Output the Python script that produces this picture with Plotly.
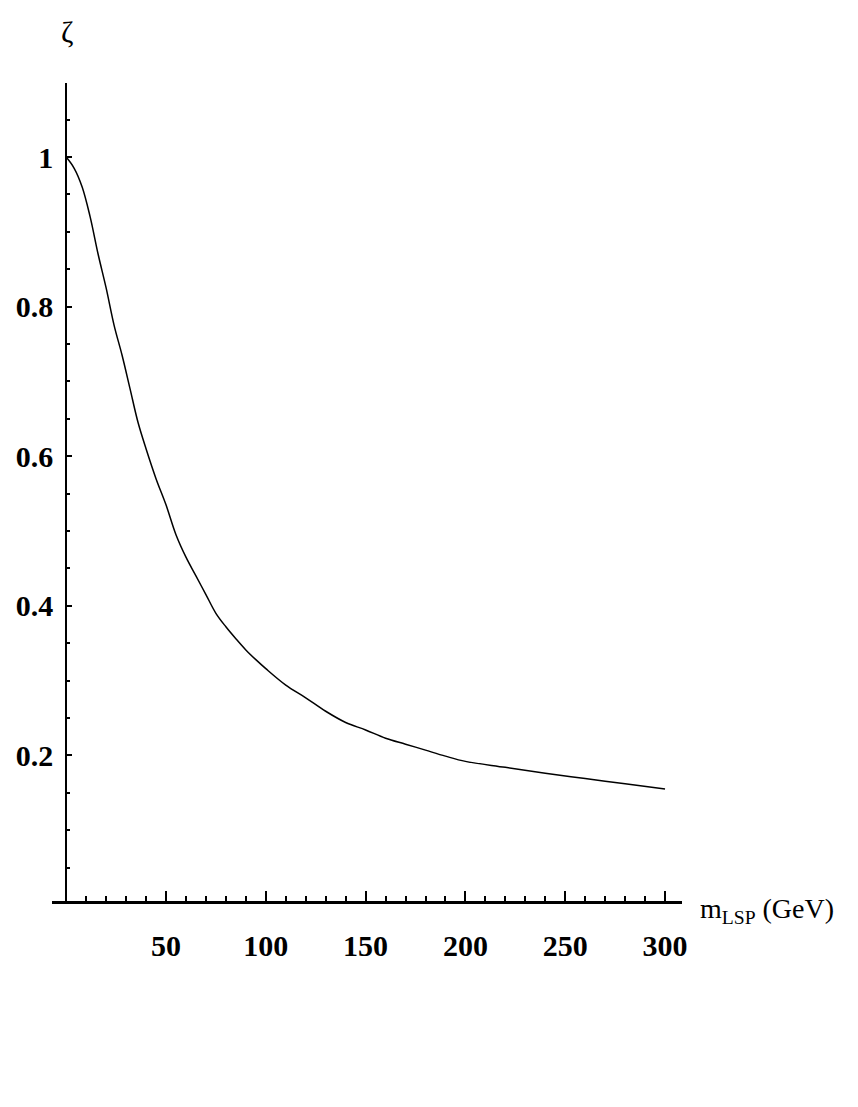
import plotly.graph_objects as go

# curve: m_LSP (GeV) vs zeta
m_lsp = [0, 4, 8, 12, 16, 20, 24, 28, 32, 36, 40, 45, 50, 55, 60, 65, 70, 75, 80, 85,
         90, 95, 100, 110, 120, 130, 140, 150, 160, 170, 180, 190, 200, 220, 240,
         260, 280, 300]
zeta = [1.0, 0.985, 0.96, 0.92, 0.87, 0.825, 0.775, 0.735, 0.69, 0.645, 0.61, 0.57,
        0.535, 0.495, 0.465, 0.44, 0.415, 0.39, 0.372, 0.356, 0.341, 0.328, 0.316,
        0.294, 0.277, 0.259, 0.244, 0.234, 0.223, 0.215, 0.207, 0.199, 0.192, 0.184,
        0.176, 0.169, 0.162, 0.155]

x_ticks = [50, 100, 150, 200, 250, 300]
x_labels = ["50", "100", "150", "200", "250", "300"]
y_ticks = [0.2, 0.4, 0.6, 0.8, 1.0]
y_labels = ["0.2", "0.4", "0.6", "0.8", "1"]

# page body has an 8px margin, so work in page pixels minus 8
off = 8
W, H = 858 - 2 * off, 1107 - 2 * off
left, right, top, bottom = 52 - off, 682 - off, 83 - off, 901 - off
xr = [-7.11, 308.5]
yr = [0.0053, 1.099]

tick_font = dict(family="Liberation Serif", size=30, color="black", weight="bold")

fig = go.Figure()
fig.add_trace(go.Scatter(x=m_lsp, y=zeta, mode="lines",
                         line=dict(color="black", width=1.5, shape="spline"),
                         showlegend=False, hoverinfo="skip"))

fig.update_layout(
    width=W, height=H,
    margin=dict(l=left, r=W - right, t=top, b=H - bottom, autoexpand=False),
    plot_bgcolor="white", paper_bgcolor="white",
)

fig.update_xaxes(
    range=xr, showgrid=False, zeroline=False, automargin=False,
    showline=True, linecolor="black", linewidth=3,
    tickmode="array", tickvals=x_ticks, ticktext=x_labels,
    ticks="inside", ticklen=10, tickwidth=2, tickcolor="black",
    tickfont=tick_font, ticklabelstandoff=16,
    minor=dict(dtick=10, tick0=0, ticks="inside", ticklen=5, tickwidth=2,
               tickcolor="black", showgrid=False),
)

fig.update_yaxes(
    range=yr, showgrid=False, zeroline=False, automargin=False,
    anchor="free", position=(0 - xr[0]) / (xr[1] - xr[0]),
    showline=True, linecolor="black", linewidth=2,
    tickmode="array", tickvals=y_ticks, ticktext=y_labels,
    ticks="inside", ticklen=5, tickwidth=2, tickcolor="black",
    tickfont=tick_font, ticklabelstandoff=6,
    minor=dict(dtick=0.05, tick0=0, ticks="inside", ticklen=2.5, tickwidth=2,
               tickcolor="black", showgrid=False),
)

# axis titles placed like the original
fig.add_annotation(text="m<sub>LSP</sub> (GeV)", xref="paper", yref="paper",
                   x=(698 - off - left) / (right - left),
                   y=(bottom - (910 - off)) / (bottom - top),
                   xanchor="left", yanchor="middle", showarrow=False,
                   font=dict(family="Liberation Serif", size=28, color="black"))
fig.add_annotation(text="ζ", xref="paper", yref="paper",
                   x=(67 - off - left) / (right - left),
                   y=(bottom - (32 - off)) / (bottom - top),
                   xanchor="center", yanchor="middle", showarrow=False,
                   font=dict(family="Liberation Serif", size=30, color="black"))

fig.write_html("out.html")
